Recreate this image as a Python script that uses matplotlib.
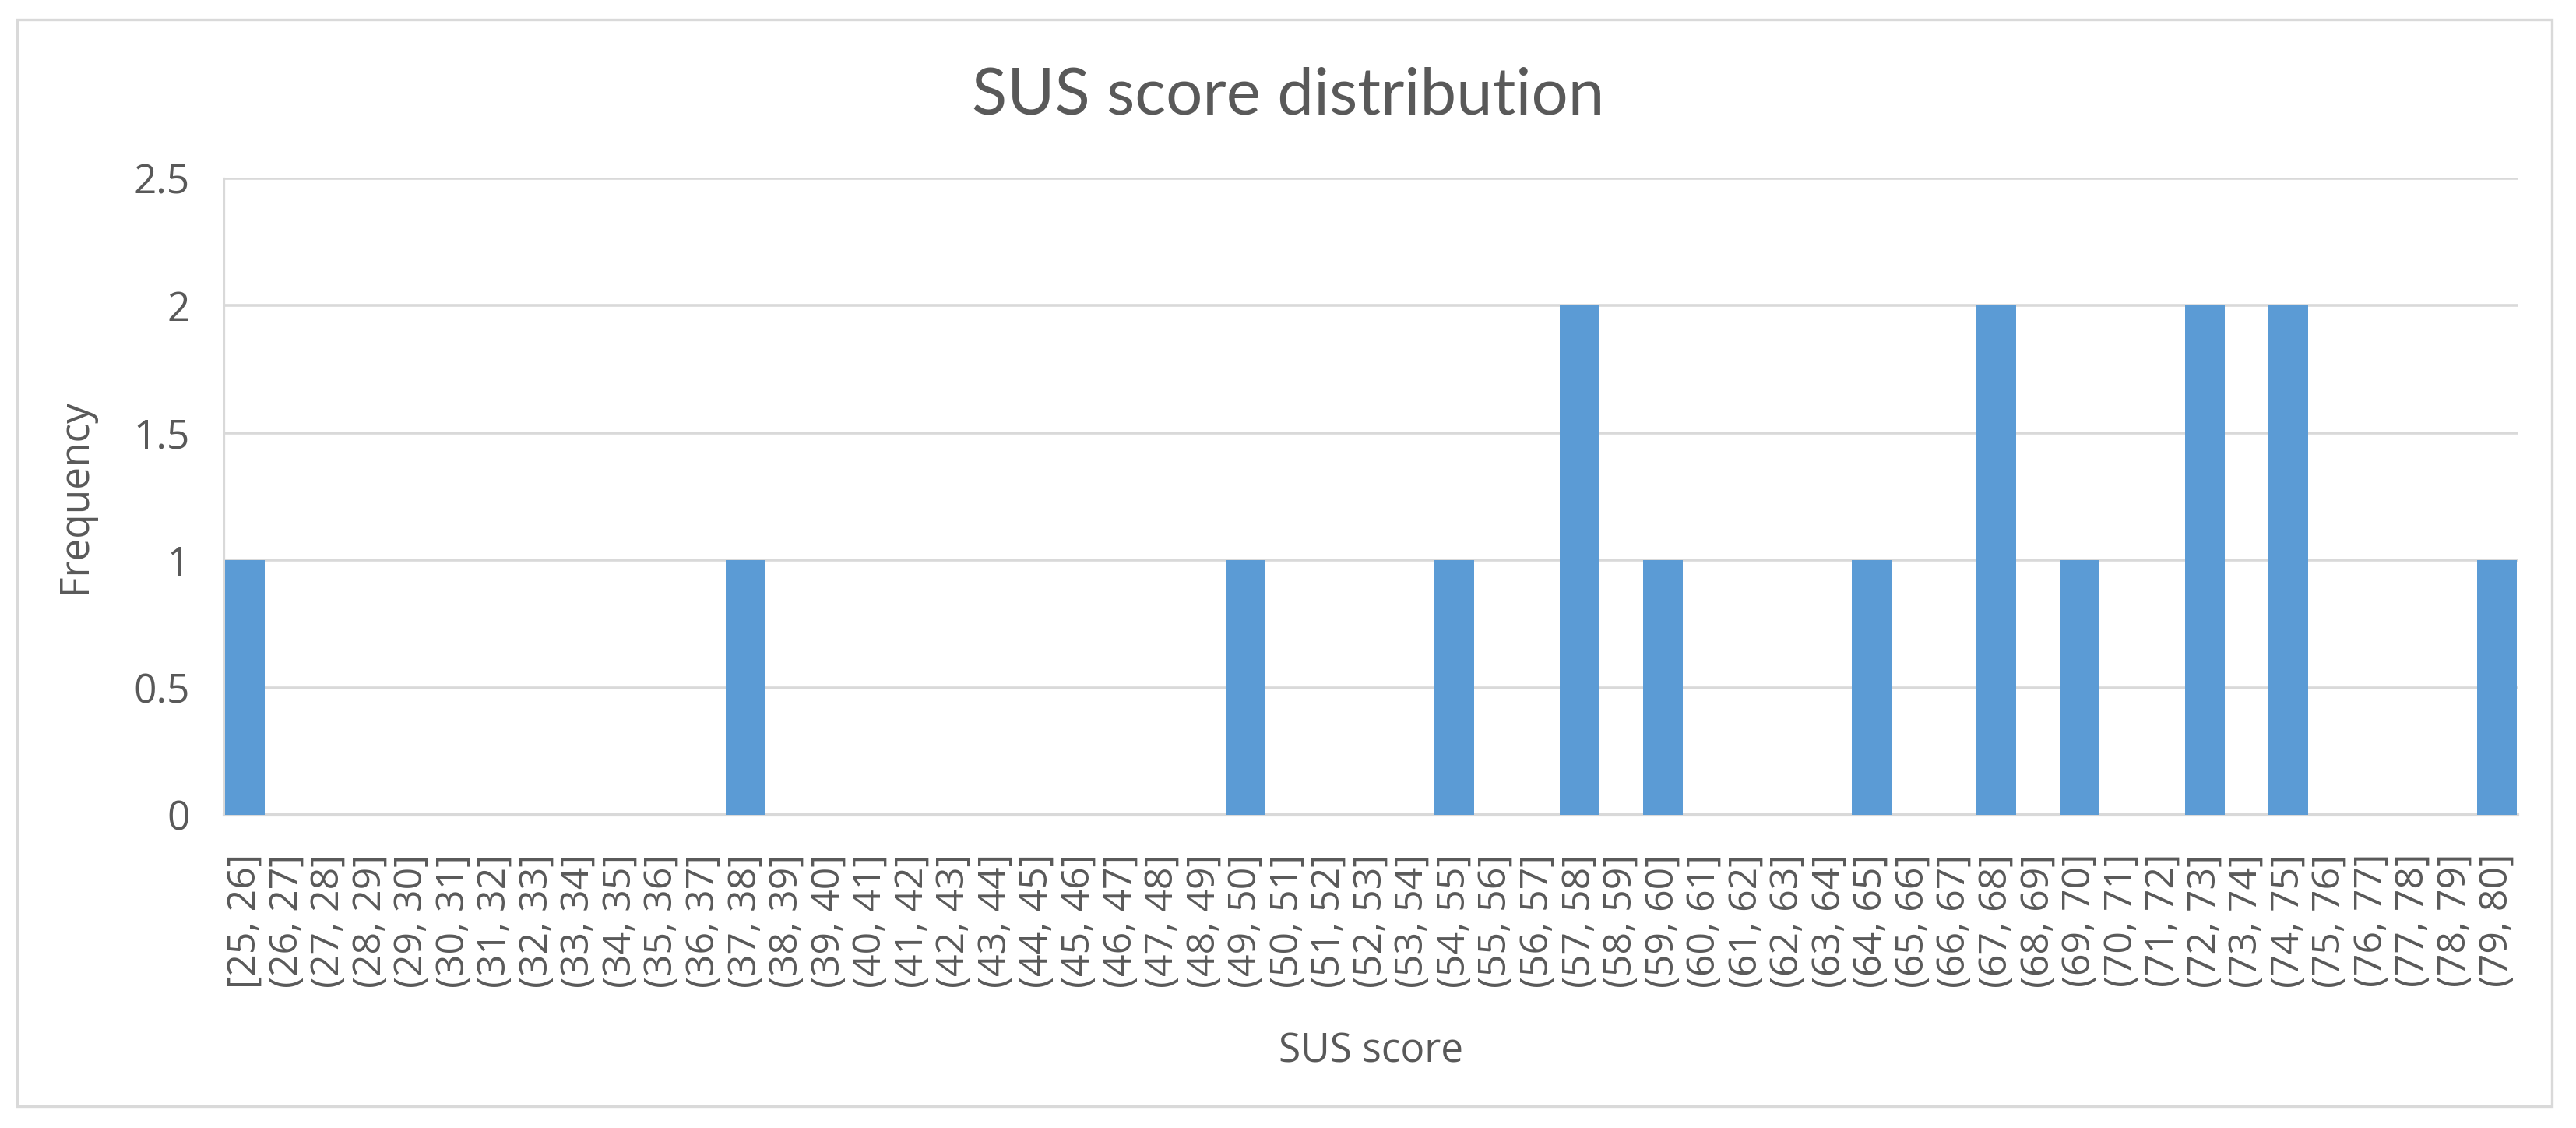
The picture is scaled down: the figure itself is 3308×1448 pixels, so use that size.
import matplotlib
matplotlib.use("Agg")
import matplotlib.pyplot as plt
from matplotlib.patches import Rectangle

# histogram bins (25, 26] ... (79, 80], first one closed
bin_lo = list(range(25, 80))
bin_labels = ["[25, 26]"] + ["(%d, %d]" % (lo, lo + 1) for lo in bin_lo[1:]]
frequency = [1, 0, 0, 0, 0, 0, 0, 0, 0, 0, 0, 0, 1, 0, 0, 0, 0, 0, 0, 0,
             0, 0, 0, 0, 1, 0, 0, 0, 0, 1, 0, 0, 2, 0, 1, 0, 0, 0, 0, 1,
             0, 0, 2, 0, 1, 0, 0, 2, 0, 2, 0, 0, 0, 0, 1]
y_ticks = [0, 0.5, 1, 1.5, 2, 2.5]

txt = "#595959"
grid = "#D9D9D9"
bar_color = "#5B9BD5"

plt.rcParams['font.family'] = ['Open Sans', 'DejaVu Sans']

fig = plt.figure(figsize=(16.54, 7.24), dpi=200)
ax = fig.add_axes([0.0871, 0.2776, 0.8903, 0.5643])

x = list(range(len(bin_labels)))
ax.bar(x, frequency, width=0.95, color=bar_color, zorder=3)

ax.set_xlim(-0.5, len(bin_labels) - 0.5)
ax.set_ylim(0, 2.5)
ax.set_yticks(y_ticks)
ax.set_yticklabels(["0", "0.5", "1", "1.5", "2", "2.5"])
ax.set_xticks(x)
ax.set_xticklabels(bin_labels, rotation=90)
ax.tick_params(axis='y', length=0, pad=16, labelsize=18.5, labelcolor=txt)
ax.tick_params(axis='x', length=0, pad=18, labelsize=18, labelcolor=txt)

ax.grid(axis='y', color=grid, linewidth=1.3, zorder=0)
for s in ['top', 'right']:
    ax.spines[s].set_visible(False)
ax.spines['left'].set_color(grid)
ax.spines['left'].set_linewidth(0.8)
ax.spines['bottom'].set_color(grid)
ax.spines['bottom'].set_linewidth(1.5)

fig.text(0.5, 0.915, "SUS score distribution", ha='center', va='center',
         fontsize=30, color=txt, family=['Lato', 'Open Sans'])
fig.text(0.0293, 0.56, "Frequency", rotation=90, ha='center', va='center',
         fontsize=18.5, color=txt)
fig.text(0.5322, 0.068, "SUS score", ha='center', va='center',
         fontsize=18.5, color=txt)

# chart area border
fig.patches.append(Rectangle((0.0065, 0.0193), 0.984, 0.9635, transform=fig.transFigure,
                             fill=False, edgecolor=grid, linewidth=1.2))

fig.savefig("out.png", dpi=200, facecolor="white")
